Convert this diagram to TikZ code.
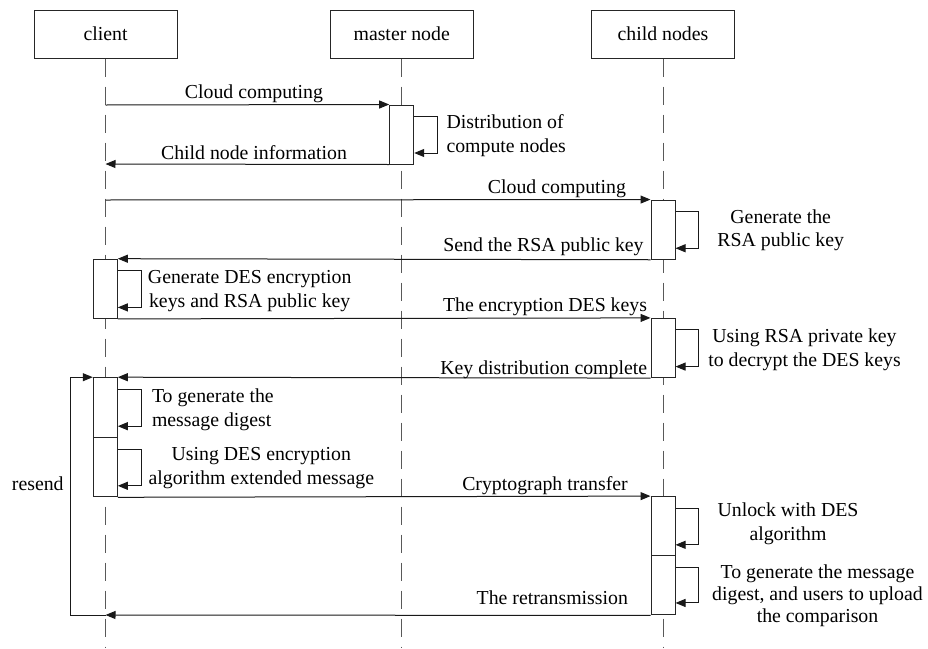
\documentclass[tikz,border=0pt]{standalone}
\usepackage{fontspec}
\setmainfont{Liberation Serif}
\usetikzlibrary{arrows.meta,calc}
\begin{document}
\begin{tikzpicture}[x=1pt,y=-1pt,
  font=\fontsize{19.8}{23.5}\selectfont,
  line width=1pt,
  every node/.style={inner sep=0pt},
  head/.style={draw=black!85, fill=white, minimum width=143pt, minimum height=48pt},
  act/.style={draw=black!85, fill=white, minimum width=24pt, minimum height=59.2pt},
  life/.style={draw=black!65, dash pattern=on 18pt off 10pt},
  msg/.style={draw=black!90, -{Triangle[length=10pt,width=8pt]}},
  lbl/.style={anchor=base},
  lblw/.style={anchor=base west, align=left},
  lblc/.style={anchor=base, align=center}]
\useasboundingbox (0,0) rectangle (928,648);
% heads
\node[head] (client) at (105.5,34) {client};
\node[head] (master) at (401.7,34) {master node};
\node[head] (child) at (663,34) {child nodes};
% lifelines
\coordinate (clEnd) at (105.5,648);
\coordinate (maEnd) at (401.7,648);
\coordinate (chEnd) at (663,648);
\draw[life] (client.south) -- (clEnd);
\draw[life] (master.south) -- (maEnd);
\draw[life] (child.south) -- (chEnd);
% activation boxes
\node[act, minimum height=59pt] (mA) at (401.7,134.5) {};
\node[act] (cA1) at (663,229.65) {};
\node[act] (clA1) at (105.3,288.8) {};
\node[act] (cA2) at (663,348) {};
\node[act, minimum height=60pt] (clA2) at (105.3,407.7) {};
\node[act] (clA3) at (105.3,467.2) {};
\node[act] (cA3) at (663,526.2) {};
\node[act] (cA4) at (663,585.35) {};
% messages
\coordinate (m1s) at (105.5,105);
\draw[msg] (m1s) -- (mA.north west);
\node[lbl] (l1) at (254,98) {Cloud computing};
\draw[msg] ($(mA.north east)+(0,12)$) -- ++(23,0) |- ($(mA.south east)+(0,-11.5)$);
\node[lblw] (s1) at (446,152) {Distribution of\\compute nodes};
\coordinate (m2e) at (105.5,164);
\draw[msg] (mA.south west) -- (m2e);
\node[lbl] (l2) at (254,159) {Child node information};
\coordinate (m3s) at (105.5,200);
\draw[msg] (m3s) -- (cA1.north west);
\node[lbl] (l3) at (557,193) {Cloud computing};
\draw[msg] ($(cA1.north east)+(0,12)$) -- ++(23,0) |- ($(cA1.south east)+(0,-11.5)$);
\node[lblc] (s2) at (780.7,246.7) {Generate the\\RSA public key};
\draw[msg] (cA1.south west) -- (clA1.north east);
\node[lbl] (l4) at (543.5,251) {Send the RSA public key};
\draw[msg] ($(clA1.north east)+(0,12)$) -- ++(24,0) |- ($(clA1.south east)+(0,-11.5)$);
\node[lblc] (s3) at (249.7,307.3) {Generate DES encryption\\keys and RSA public key};
\draw[msg] (clA1.south east) -- (cA2.north west);
\node[lbl] (l5) at (545,311) {The encryption DES keys};
\draw[msg] ($(cA2.north east)+(0,12)$) -- ++(23,0) |- ($(cA2.south east)+(0,-11.5)$);
\node[lblc] (s4) at (804.5,366) {Using RSA private key\\to decrypt the DES keys};
\draw[msg] (cA2.south west) -- (clA2.north east);
\node[lbl] (l6) at (543.7,374.5) {Key distribution complete};
\draw[msg] ($(clA2.north east)+(0,12.5)$) -- ++(24,0) |- ($(clA2.south east)+(0,-12)$);
\node[lblw] (s5) at (151.5,426) {To generate the\\message digest};
\draw[msg] ($(clA3.north east)+(0,12)$) -- ++(24,0) |- ($(clA3.south east)+(0,-11.5)$);
\node[lblc] (s6) at (261.3,484) {Using DES encryption\\algorithm extended message};
\draw[msg] (clA3.south east) -- (cA3.north west);
\node[lbl] (l7) at (545,490.5) {Cryptograph transfer};
\draw[msg] ($(cA3.north east)+(0,12)$) -- ++(23,0) |- ($(cA3.south east)+(0,-11.5)$);
\node[lblc] (s7) at (788,540) {Unlock with DES\\algorithm};
\draw[msg] ($(cA4.north east)+(0,12)$) -- ++(23,0) |- ($(cA4.south east)+(0,-12.5)$);
\node[lblc, font=\fontsize{19.8}{22.3}\selectfont] (s8) at (817.5,622.7) {To generate the message\\digest, and users to upload\\the comparison};
\coordinate (rt) at (105.5,615);
\draw[msg] (cA4.south west) -- (rt);
\node[lbl] (l8) at (552.3,604) {The retransmission};
\draw[msg] (rt) -- ++(-35.5,0) |- (clA2.north west);
\node[lbl] (rs) at (37.8,490.7) {resend};
\end{tikzpicture}
\end{document}
